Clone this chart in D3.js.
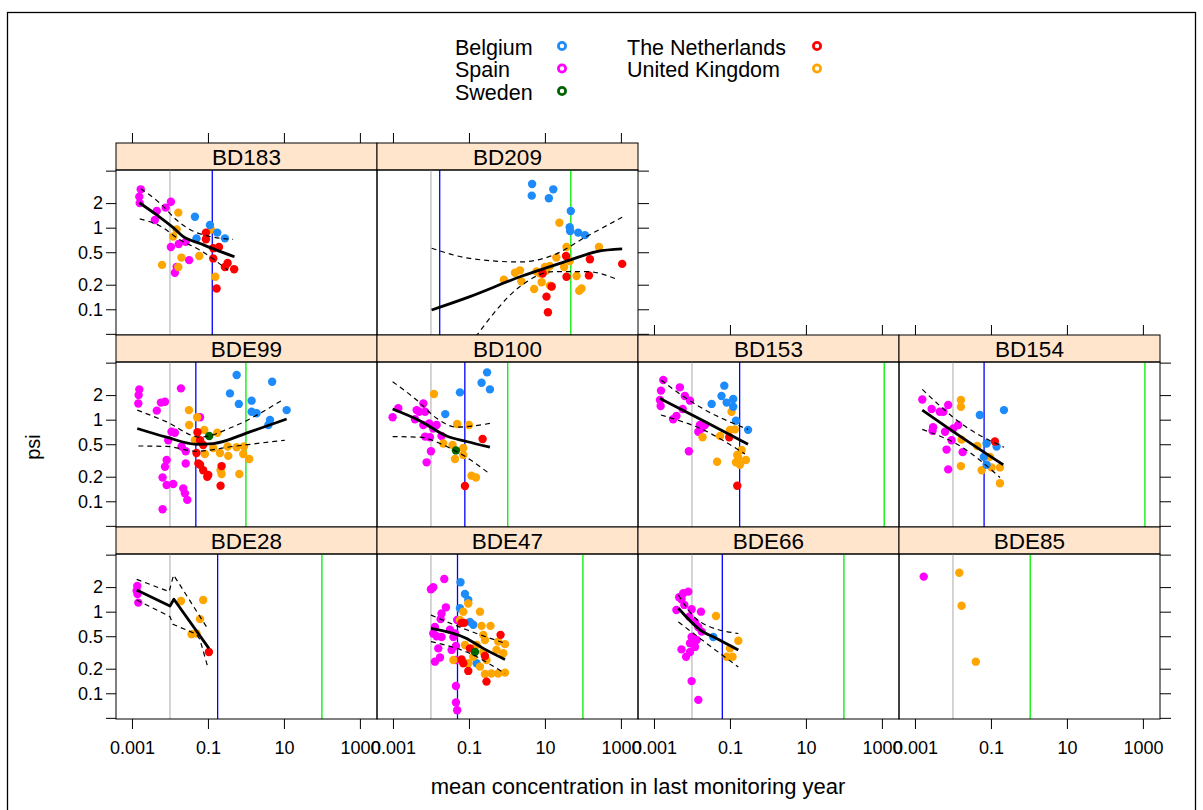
<!DOCTYPE html>
<html>
<head>
<meta charset="utf-8" />
<title>psi vs mean concentration</title>
<script src="https://d3js.org/d3.v7.min.js"></script>
<style>
  body { margin: 0; background: #fff; }
  svg { font-family: "Liberation Sans", Arial, sans-serif; }
</style>
</head>
<body>
<svg id="chart" width="1203" height="810"></svg>
<script>
// countries and colours (legend order)
var countries = ["Belgium", "Spain", "Sweden", "The Netherlands", "United Kingdom"];
var countryCodes = ["BE", "ES", "SE", "NL", "UK"];
var countryColors = ["#1E8BFA", "#FF00FF", "#006400", "#FF0000", "#FFA500"];

// panels, in lattice order (row by row, top first)
var panelNames = ["BD183", "BD209", "BDE99", "BD100", "BD153", "BD154", "BDE28", "BDE47", "BDE66", "BDE85"];

// reference lines (concentration)
var grayRef  = [0.01, 0.01, 0.01, 0.01, 0.01, 0.01, 0.01, 0.01, 0.01, 0.01];
var blueRef  = [0.13, 0.017, 0.048, 0.078, 0.18, 0.066, 0.18, 0.05, 0.063, null];
var greenRef = [null, 48, 1.0, 1.05, 1150, 1130, 100, 100, 100, 1.08];

var xTicks = [0.001, 0.1, 10, 1000];
var yTicks = [0.05, 0.1, 0.2, 0.5, 1, 2, 5];
var yTickLabels = ["", "0.1", "0.2", "0.5", "1", "2", ""];

// points: [country, mean concentration, psi]
var BD183 = [
  ["ES",0.0017,2.95],["ES",0.00156,2.4],["ES",0.0016,2.0],["ES",0.0106,2.08],["ES",0.0077,1.76],["ES",0.0045,1.6],
  ["ES",0.004,1.24],["ES",0.0106,0.58],["ES",0.017,0.63],["ES",0.026,0.67],["ES",0.032,0.40],["ES",0.0135,0.28],["ES",0.015,0.33],
  ["UK",0.0166,1.53],["UK",0.015,0.95],["UK",0.0122,0.78],["UK",0.02,0.43],["UK",0.0166,0.33],["UK",0.0062,0.35],
  ["UK",0.059,0.45],["UK",0.12,0.95],["UK",0.156,0.25],
  ["BE",0.0455,1.36],["BE",0.113,1.08],["BE",0.176,0.87],["BE",0.28,0.74],["BE",0.05,0.74],
  ["NL",0.0885,0.87],["NL",0.0885,0.72],["NL",0.138,0.56],["NL",0.195,0.58],["NL",0.138,0.42],["NL",0.28,0.33],
  ["NL",0.33,0.37],["NL",0.49,0.31],["NL",0.169,0.18]
];
var BD209 = [
  ["BE",4.6,3.43],["BE",4.5,2.47],["BE",16.6,2.95],["BE",12.7,2.29],["BE",48,1.6],["BE",45,1.01],["BE",46,0.91],["BE",75,0.87],["BE",113,0.81],
  ["UK",24,1.15],["UK",37,0.58],["UK",264,0.58],["UK",20,0.43],["UK",32,0.33],["UK",45,0.39],["UK",68,0.256],["UK",92,0.18],
  ["UK",80,0.169],["UK",13.5,0.195],["UK",5.2,0.177],["UK",8.2,0.214],["UK",6,0.29],["UK",10,0.33],["UK",13.5,0.34],["UK",11,0.30],
  ["UK",2.2,0.30],["UK",1.63,0.28],["UK",0.83,0.23],["UK",2.4,0.22],["UK",15,0.19],["UK",7.4,0.275],
  ["NL",36,0.45],["NL",153,0.41],["NL",1080,0.36],["NL",37,0.25],["NL",144,0.26],["NL",11,0.143],["NL",12,0.092],["NL",8.7,0.275],["NL",15,0.19]
];
var BDE99 = [
  ["ES",0.00156,2.35],["ES",0.0015,2.0],["ES",0.00147,1.58],["ES",0.0195,2.42],["ES",0.0058,1.62],["ES",0.0074,1.66],["ES",0.0045,1.29],
  ["ES",0.011,0.71],["ES",0.0135,0.69],["ES",0.009,0.56],["ES",0.0203,0.47],["ES",0.026,0.41],["ES",0.0082,0.32],["ES",0.0074,0.265],
  ["ES",0.0064,0.196],["ES",0.0082,0.158],["ES",0.0122,0.163],["ES",0.0224,0.144],["ES",0.0248,0.125],["ES",0.0286,0.104],
  ["ES",0.0064,0.08],["ES",0.026,0.29],["ES",0.062,1.07],
  ["UK",0.0316,1.31],["UK",0.052,1.07],["UK",0.032,0.86],["UK",0.080,0.75],["UK",0.176,0.69],["UK",0.0455,0.56],["UK",0.33,0.47],
  ["UK",0.57,0.46],["UK",0.89,0.47],["UK",0.343,0.36],["UK",0.85,0.38],["UK",1.22,0.33],["UK",0.083,0.38],["UK",0.215,0.24],
  ["UK",0.229,0.216],["UK",0.67,0.216],["UK",0.138,0.45],["UK",0.207,0.39],
  ["BE",0.57,3.53],["BE",0.38,2.1],["BE",0.65,1.56],["BE",1.41,1.71],["BE",1.41,1.25],["BE",1.91,1.2],["BE",4.9,2.92],
  ["BE",11.8,1.31],["BE",4.3,0.99],["BE",3.9,0.86],
  ["NL",0.053,0.70],["NL",0.062,0.56],["NL",0.075,0.49],["NL",0.05,0.39],["NL",0.062,0.28],["NL",0.075,0.24],["NL",0.102,0.21],
  ["NL",0.096,0.2],["NL",0.229,0.27],["NL",0.215,0.155],["NL",0.056,0.29],
  ["SE",0.108,0.63]
];
var BD100 = [
  ["ES",0.00138,1.38],["ES",0.00098,1.07],["ES",0.0042,1.31],["ES",0.0063,1.58],["ES",0.007,1.25],["ES",0.0038,1.01],["ES",0.0063,0.86],
  ["ES",0.009,0.90],["ES",0.0141,0.86],["ES",0.0115,0.78],["ES",0.007,0.62],["ES",0.0094,0.61],["ES",0.019,0.63],["ES",0.01,0.41],
  ["ES",0.0077,0.30],["ES",0.0049,1.25],
  ["UK",0.012,2.06],["UK",0.049,0.885],["UK",0.1,0.86],["UK",0.021,0.51],["UK",0.037,0.49],["UK",0.071,0.45],["UK",0.071,0.37],
  ["UK",0.043,0.33],["UK",0.117,0.206],["UK",0.153,0.196],
  ["BE",0.30,3.8],["BE",0.215,2.84],["BE",0.357,2.35],["BE",0.058,2.16],["BE",0.0238,1.17],
  ["NL",0.229,0.58],["NL",0.0785,0.154],
  ["SE",0.0455,0.42]
];
var BD153 = [
  ["ES",0.00176,3.06],["ES",0.00153,2.27],["ES",0.00144,1.74],["ES",0.0015,1.47],["ES",0.0048,2.49],["ES",0.0065,1.95],["ES",0.0089,1.71],
  ["ES",0.0057,1.35],["ES",0.0039,1.11],["ES",0.0032,1.01],["ES",0.0162,0.86],["ES",0.022,0.86],["ES",0.018,0.78],["ES",0.0147,0.71],
  ["ES",0.0083,0.41],
  ["UK",0.11,1.25],["UK",0.019,0.61],["UK",0.055,0.63],["UK",0.1,0.75],["UK",0.135,0.76],["UK",0.203,0.425],["UK",0.156,0.37],
  ["UK",0.046,0.305],["UK",0.144,0.30],["UK",0.183,0.28],["UK",0.264,0.32],["UK",0.166,0.34],
  ["BE",0.071,2.61],["BE",0.06,1.95],["BE",0.082,1.62],["BE",0.122,1.79],["BE",0.033,1.56],["BE",0.122,1.44],["BE",0.144,0.97],["BE",0.30,0.75],
  ["NL",0.096,0.61],["NL",0.156,0.155]
];
var BD154 = [
  ["ES",0.00156,1.77],["ES",0.00275,1.35],["ES",0.0045,1.25],["ES",0.0056,1.25],["ES",0.0075,1.51],["ES",0.003,0.81],["ES",0.0029,0.73],
  ["ES",0.0062,0.71],["ES",0.0102,0.78],["ES",0.0138,0.86],["ES",0.0092,0.56],["ES",0.0068,0.43],["ES",0.018,0.40],["ES",0.0075,0.246],
  ["UK",0.0162,1.74],["UK",0.0162,1.44],["UK",0.0169,0.57],["UK",0.0436,0.475],["UK",0.057,0.24],["UK",0.094,0.35],["UK",0.104,0.26],
  ["UK",0.173,0.26],["UK",0.173,0.166],["UK",0.0162,0.27],
  ["BE",0.051,1.14],["BE",0.22,1.31],["BE",0.077,0.51],["BE",0.141,0.47],["BE",0.065,0.35],["BE",0.077,0.28],
  ["NL",0.127,0.54]
];
var BDE28 = [
  ["ES",0.00138,2.06],["ES",0.00133,1.81],["ES",0.0014,1.65],["ES",0.00147,1.29],
  ["UK",0.0195,1.35],["UK",0.075,1.39],["UK",0.062,0.81],["UK",0.037,0.53],["UK",0.05,0.54],
  ["NL",0.106,0.32]
];
var BDE47 = [
  ["ES",0.0224,2.51],["ES",0.01,1.88],["ES",0.0115,1.99],["ES",0.019,0.95],["ES",0.0248,1.13],["ES",0.018,0.81],["ES",0.0127,0.65],
  ["ES",0.0115,0.54],["ES",0.0141,0.50],["ES",0.019,0.49],["ES",0.0156,0.355],["ES",0.0173,0.275],["ES",0.0127,0.244],["ES",0.035,0.34],
  ["ES",0.0455,0.256],["ES",0.049,0.79],["ES",0.043,0.54],["ES",0.0455,0.38],["ES",0.0455,0.123],["ES",0.0455,0.077],["ES",0.049,0.062],
  ["ES",0.0316,0.60],["ES",0.039,0.49],
  ["BE",0.06,2.29],["BE",0.0785,1.65],["BE",0.096,1.39],["BE",0.058,1.10],["BE",0.13,0.69],["BE",0.106,0.75],["BE",0.159,0.233],
  ["UK",0.096,1.26],["UK",0.071,1.0],["UK",0.195,1.0],["UK",0.058,0.79],["UK",0.215,0.67],["UK",0.37,0.67],["UK",0.238,0.52],
  ["UK",0.264,0.45],["UK",0.59,0.43],["UK",0.89,0.40],["UK",0.53,0.34],["UK",0.80,0.31],["UK",0.238,0.32],["UK",0.29,0.256],
  ["UK",0.13,0.28],["UK",0.195,0.212],["UK",0.264,0.172],["UK",0.39,0.175],["UK",0.59,0.175],["UK",0.89,0.179],["UK",0.096,0.233],
  ["UK",0.039,0.256],["UK",0.159,0.39],["UK",0.0785,0.39],
  ["NL",0.064,0.73],["NL",0.075,0.73],["NL",0.68,0.52],["NL",0.264,0.286],["NL",0.064,0.26],["NL",0.071,0.233],["NL",0.096,0.188],
  ["NL",0.29,0.139],["NL",0.106,0.355],
  ["SE",0.144,0.32]
];
var BDE66 = [
  ["ES",0.008,1.76],["ES",0.0059,1.68],["ES",0.0046,1.50],["ES",0.0053,1.42],["ES",0.0063,1.21],["ES",0.0039,1.05],["ES",0.0098,1.07],
  ["ES",0.0173,1.0],["ES",0.0085,0.87],["ES",0.012,0.75],["ES",0.0147,0.65],["ES",0.018,0.57],["ES",0.0098,0.49],["ES",0.0133,0.45],
  ["ES",0.0089,0.41],["ES",0.012,0.37],["ES",0.0053,0.345],["ES",0.007,0.28],["ES",0.0098,0.141],["ES",0.0147,0.083],["ES",0.0089,0.32],
  ["UK",0.043,0.885],["UK",0.166,0.44],["UK",0.1,0.355],["UK",0.117,0.28],["UK",0.082,0.28],
  ["BE",0.0364,0.49]
];
var BDE85 = [
  ["ES",0.0017,2.69],
  ["UK",0.0147,3.0],["UK",0.0169,1.18],["UK",0.040,0.244]
];

// smooth fits: [concentration, psi]
var BD183_fit = [[0.00156,2.02],[0.0045,1.43],[0.0122,1.0],[0.022,0.78],[0.062,0.64],[0.17,0.53],[0.5,0.44]];
var BD183_hi  = [[0.0017,3.0],[0.0055,1.99],[0.015,1.24],[0.0336,0.95],[0.113,0.78],[0.46,0.72]];
var BD183_lo  = [[0.0016,1.28],[0.0055,1.05],[0.0183,0.71],[0.062,0.53],[0.34,0.30]];
var BD209_fit = [[0.0104,0.098],[0.106,0.143],[2.2,0.25],[45,0.40],[229,0.51],[1080,0.55]];
var BD209_hi  = [[0.0104,0.56],[0.106,0.42],[2.2,0.38],[16.6,0.46],[125,0.78],[1080,1.34]];
var BD209_lo  = [[0.15,0.046],[2.2,0.19],[16.6,0.29],[125,0.29],[850,0.23]];
var BDE99_fit = [[0.00138,0.78],[0.0082,0.61],[0.05,0.50],[0.138,0.51],[1.27,0.71],[11.8,1.02]];
var BDE99_hi  = [[0.00138,1.31],[0.0082,0.94],[0.062,0.61],[0.46,0.82],[9.6,1.77]];
var BDE99_lo  = [[0.00147,0.476],[0.0082,0.47],[0.05,0.41],[0.46,0.47],[10.6,0.56]];
var BD100_fit = [[0.00098,1.35],[0.0051,0.97],[0.0258,0.63],[0.087,0.54],[0.357,0.46]];
var BD100_hi  = [[0.00098,2.92],[0.0042,1.74],[0.0141,1.04],[0.047,0.81],[0.357,0.90]];
var BD100_lo  = [[0.00098,0.62],[0.0051,0.61],[0.021,0.49],[0.087,0.345],[0.32,0.224]];
var BD153_fit = [[0.00144,1.82],[0.0199,0.97],[0.30,0.50]];
var BD153_hi  = [[0.00153,3.06],[0.0133,1.51],[0.30,0.76]];
var BD153_lo  = [[0.00153,1.14],[0.0199,0.75],[0.248,0.38]];
var BD154_fit = [[0.00156,1.31],[0.0187,0.59],[0.211,0.28]];
var BD154_hi  = [[0.00156,2.35],[0.0187,0.86],[0.22,0.46]];
var BD154_lo  = [[0.00156,0.76],[0.0187,0.45],[0.173,0.196]];
var BDE28_fit = [[0.00133,1.84],[0.01,1.17],[0.0127,1.42],[0.106,0.355]];
var BDE28_hi  = [[0.00133,2.49],[0.0095,1.76],[0.0125,2.81],[0.092,0.65]];
var BDE28_lo  = [[0.00133,1.39],[0.01,0.87],[0.012,0.70],[0.05,0.53],[0.062,0.45],[0.102,0.2]];
var BDE47_fit = [[0.01,0.625],[0.087,0.47],[0.238,0.355],[0.89,0.26]];
var BDE47_hi  = [[0.01,0.91],[0.087,0.60],[0.89,0.41]];
var BDE47_lo  = [[0.01,0.43],[0.087,0.32],[0.89,0.175]];
var BDE66_fit = [[0.0044,1.1],[0.0163,0.60],[0.0446,0.47],[0.166,0.34]];
var BDE66_hi  = [[0.0044,1.6],[0.0163,0.75],[0.166,0.54]];
var BDE66_lo  = [[0.0044,0.75],[0.0163,0.47],[0.166,0.21]];

var panelPoints = [BD183, BD209, BDE99, BD100, BD153, BD154, BDE28, BDE47, BDE66, BDE85];
var panelFits = [
  [BD183_fit, BD183_lo, BD183_hi], [BD209_fit, BD209_lo, BD209_hi], [BDE99_fit, BDE99_lo, BDE99_hi],
  [BD100_fit, BD100_lo, BD100_hi], [BD153_fit, BD153_lo, BD153_hi], [BD154_fit, BD154_lo, BD154_hi],
  [BDE28_fit, BDE28_lo, BDE28_hi], [BDE47_fit, BDE47_lo, BDE47_hi], [BDE66_fit, BDE66_lo, BDE66_hi], null
];

// layout of the lattice (row, col) for each panel
var panelRow = [0, 0, 1, 1, 1, 1, 2, 2, 2, 2];
var panelCol = [0, 1, 0, 1, 2, 3, 0, 1, 2, 3];

var W = 261, H = 165, stripH = 27;
var left0 = 116, top0 = 143, rowPitch = 192;

var svg = d3.select("#chart");

svg.append("rect")
  .attr("x", 7.5).attr("y", 12.5)
  .attr("width", 1188).attr("height", 830)
  .attr("fill", "none").attr("stroke", "black").attr("stroke-width", 1.3);

var x = d3.scaleLog().domain([Math.pow(10, -3.42), Math.pow(10, 3.45)]).range([0, W]);
var y = d3.scaleLog().domain([0.0484, 5.09]).range([H, 0]);

function cleanAxis(g) {
  g.select(".domain").remove();
  g.selectAll(".tick line").attr("stroke", "black").attr("stroke-width", 1);
  g.selectAll(".tick text").attr("fill", "black").style("font-size", "18px")
    .style("font-family", "'Liberation Sans', Arial, sans-serif");
}

panelNames.forEach(function(name, i) {
  var r = panelRow[i], c = panelCol[i];
  var g = svg.append("g")
    .attr("transform", "translate(" + (left0 + c * W) + "," + (top0 + r * rowPitch) + ")");

  // strip
  g.append("rect")
    .attr("width", W).attr("height", stripH)
    .attr("fill", "#FFE5CC").attr("stroke", "black").attr("stroke-width", 1);
  g.append("text")
    .attr("x", W / 2).attr("y", 21.5)
    .attr("text-anchor", "middle")
    .style("font-size", "22.5px")
    .text(name);

  var p = g.append("g").attr("transform", "translate(0," + stripH + ")");

  p.append("clipPath").attr("id", "clip" + i)
    .append("rect").attr("width", W).attr("height", H);

  var inner = p.append("g").attr("clip-path", "url(#clip" + i + ")");

  // reference lines
  [[grayRef[i], "#BEBEBE"], [blueRef[i], "#0000FF"], [greenRef[i], "#00EE00"]].forEach(function(ref) {
    if (ref[0] == null) return;
    inner.append("line")
      .attr("x1", x(ref[0])).attr("x2", x(ref[0]))
      .attr("y1", 0).attr("y2", H)
      .attr("stroke", ref[1]).attr("stroke-width", 1.3);
  });

  // points
  inner.selectAll("circle")
    .data(panelPoints[i])
    .enter().append("circle")
    .attr("cx", function(d) { return x(d[1]); })
    .attr("cy", function(d) { return y(d[2]); })
    .attr("r", 4.2)
    .attr("fill", function(d) { return countryColors[countryCodes.indexOf(d[0])]; });

  // smooth fit and its band (BDE28 has few points, drawn with straight pieces)
  if (panelFits[i]) {
    var fx = d3.line()
      .x(function(d) { return x(d[0]); })
      .y(function(d) { return y(d[1]); })
      .curve(name == "BDE28" ? d3.curveLinear : d3.curveMonotoneX);
    inner.append("path").attr("d", fx(panelFits[i][1]))
      .attr("fill", "none").attr("stroke", "black").attr("stroke-width", 1.2).attr("stroke-dasharray", "5,4");
    inner.append("path").attr("d", fx(panelFits[i][2]))
      .attr("fill", "none").attr("stroke", "black").attr("stroke-width", 1.2).attr("stroke-dasharray", "5,4");
    inner.append("path").attr("d", fx(panelFits[i][0]))
      .attr("fill", "none").attr("stroke", "black").attr("stroke-width", 2.8)
      .attr("stroke-linejoin", "round");
  }

  p.append("rect")
    .attr("width", W).attr("height", H)
    .attr("fill", "none").attr("stroke", "black").attr("stroke-width", 1);

  // axes
  if (c == 0) {
    p.append("g")
      .call(d3.axisLeft(y).tickValues(yTicks).tickSize(10).tickPadding(3)
        .tickFormat(function(d, k) { return yTickLabels[k]; }))
      .call(cleanAxis);
  }
  var lastInRow = (r == 0 && c == 1) || (r > 0 && c == 3);
  if (lastInRow) {
    p.append("g").attr("transform", "translate(" + W + ",0)")
      .call(d3.axisRight(y).tickValues(yTicks).tickSize(11).tickFormat(""))
      .call(cleanAxis);
  }
  var topOfCol = (r == 0) || (r == 1 && c >= 2);
  if (topOfCol) {
    g.append("g")
      .call(d3.axisTop(x).tickValues(xTicks).tickSize(10).tickFormat(""))
      .call(cleanAxis);
  }
  if (r == 2) {
    p.append("g").attr("transform", "translate(0," + H + ")")
      .call(d3.axisBottom(x).tickValues(xTicks).tickSize(10).tickPadding(12)
        .tickFormat(function(d) { return String(d); }))
      .call(cleanAxis);
  }
});

// axis titles
svg.append("text")
  .attr("transform", "translate(40,447) rotate(-90)")
  .attr("text-anchor", "middle")
  .style("font-size", "20px")
  .text("psi");

svg.append("text")
  .attr("x", 638).attr("y", 794)
  .attr("text-anchor", "middle")
  .style("font-size", "22px")
  .text("mean concentration in last monitoring year");

// legend, two columns
var legendCols = [[0, 1, 2], [3, 4]];
var legendTextX = [455, 627], legendSymX = [562, 817];
legendCols.forEach(function(col, ci) {
  col.forEach(function(k, ri) {
    svg.append("text")
      .attr("x", legendTextX[ci]).attr("y", 54.5 + ri * 22.5)
      .style("font-size", "21.5px")
      .text(countries[k]);
    svg.append("circle")
      .attr("cx", legendSymX[ci]).attr("cy", 46 + ri * 22.5)
      .attr("r", 3.6)
      .attr("fill", "white")
      .attr("stroke", countryColors[k]).attr("stroke-width", 2.8);
  });
});
</script>
</body>
</html>
